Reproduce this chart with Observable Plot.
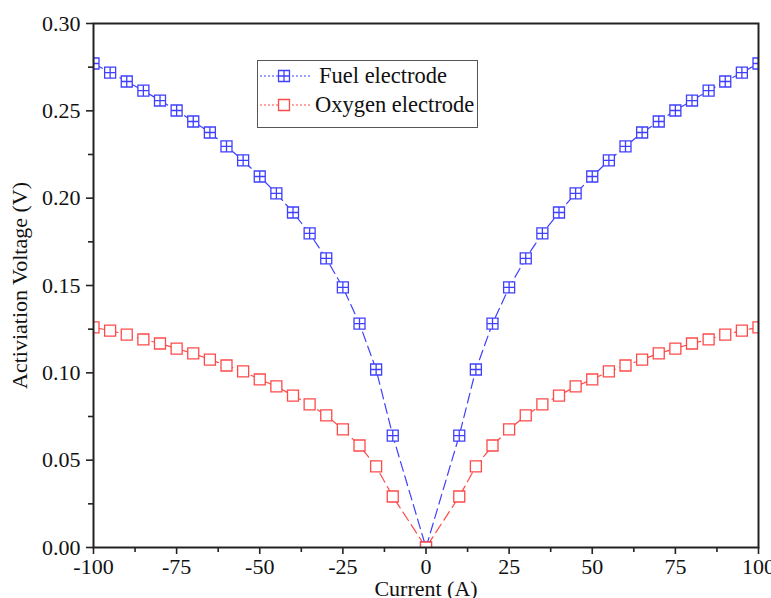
<!DOCTYPE html>
<html><head><meta charset="utf-8">
<script src="https://cdn.jsdelivr.net/npm/d3@7"></script>
<script src="https://cdn.jsdelivr.net/npm/@observablehq/plot@0.6"></script>
<style>
body{margin:0;background:#fff}
#wrap{position:relative;width:771px;height:598px;overflow:hidden;font-family:"Liberation Serif","Times New Roman",serif}
#legend{position:absolute;left:257px;top:60px;width:221px;height:68px;border:1.3px solid #555;background:#fff;box-sizing:border-box}
.row{position:absolute;left:1px;display:flex;align-items:center;font-size:22.5px;color:#111;white-space:nowrap}
.row svg{margin-right:5px}
</style></head>
<body><div id="wrap"><div id="chart"></div>
<div id="legend">
 <div class="row" style="top:2px"><svg width="52" height="24" id="lg1"></svg><span style="margin-left:3px">Fuel electrode</span></div>
 <div class="row" style="top:31px"><svg width="52" height="24" id="lg2"></svg><span style="margin-left:-1px">Oxygen electrode</span></div>
</div></div>
<script>
const current = [-100,-95,-90,-85,-80,-75,-70,-65,-60,-55,-50,-45,-40,-35,-30,-25,-20,-15,-10,0,10,15,20,25,30,35,40,45,50,55,60,65,70,75,80,85,90,95,100];
const fuel = [0.2771,0.2719,0.2668,0.2616,0.2559,0.2502,0.2439,0.2376,0.2296,0.2216,0.2124,0.2027,0.1918,0.1798,0.1655,0.1489,0.1282,0.1019,0.0641,0,0.0641,0.1019,0.1282,0.1489,0.1655,0.1798,0.1918,0.2027,0.2124,0.2216,0.2296,0.2376,0.2439,0.2502,0.2559,0.2616,0.2668,0.2719,0.2771];
const oxygen = [0.1260,0.1242,0.1219,0.1191,0.1168,0.1139,0.1111,0.1076,0.1042,0.1008,0.0962,0.0922,0.0870,0.0819,0.0756,0.0676,0.0584,0.0464,0.0292,0,0.0292,0.0464,0.0584,0.0676,0.0756,0.0819,0.0870,0.0922,0.0962,0.1008,0.1042,0.1076,0.1111,0.1139,0.1168,0.1191,0.1219,0.1242,0.1260];
const xTicks = [-100,-75,-50,-25,0,25,50,75,100];
const xMinor = [-87.5,-62.5,-37.5,-12.5,12.5,37.5,62.5,87.5];
const yTicks = [0,0.05,0.10,0.15,0.20,0.25,0.30];
const yMinor = [0.025,0.075,0.125,0.175,0.225,0.275];
const seriesNames = ["Fuel electrode","Oxygen electrode"];

const BLUE = "#3f3fff", RED = "#ff4a4a";
const fuelData = current.map((c,i)=>({x:c,y:fuel[i]}));
const oxyData = current.map((c,i)=>({x:c,y:oxygen[i]}));

const boxPlus = {draw(ctx,size){const s=Math.sqrt(size)/2;ctx.moveTo(-s,-s);ctx.lineTo(s,-s);ctx.lineTo(s,s);ctx.lineTo(-s,s);ctx.closePath();ctx.moveTo(0,-s);ctx.lineTo(0,s);ctx.moveTo(-s,0);ctx.lineTo(s,0);}};
const box = {draw(ctx,size){const s=Math.sqrt(size)/2;ctx.moveTo(-s,-s);ctx.lineTo(s,-s);ctx.lineTo(s,s);ctx.lineTo(-s,s);ctx.closePath();}};

const font = '"Liberation Serif","Times New Roman",serif';
const chart = Plot.plot({
  width: 771, height: 598,
  marginLeft: 93, marginRight: 13, marginTop: 23, marginBottom: 51,
  style: {fontFamily: font, fontSize: "22px", color: "#111", background: "#fff", overflow: "visible"},
  x: {domain: [-100,100]},
  y: {domain: [0,0.30]},
  marks: [
    Plot.line(fuelData, {x:"x", y:"y", stroke: BLUE, strokeWidth: 1.2, strokeDasharray: "10,5", clip: true}),
    Plot.line(oxyData, {x:"x", y:"y", stroke: RED, strokeWidth: 1.2, strokeDasharray: "10,5", clip: true}),
    Plot.dot(fuelData, {x:"x", y:"y", symbol: boxPlus, r: 6.2, stroke: BLUE, fill: "white", strokeWidth: 1.3, clip: true}),
    Plot.dot(oxyData, {x:"x", y:"y", symbol: box, r: 6.2, stroke: RED, fill: "white", strokeWidth: 1.3, clip: true}),
    Plot.axisX({ticks: xTicks, tickSize: 7, tickPadding: 4, strokeWidth: 1.6, stroke: "#222", fontSize: 22, tickFormat: d => String(d), label: "Current (A)", labelAnchor: "center", labelOffset: 48, labelArrow: "none"}),
    Plot.axisX({ticks: xMinor, tickSize: 5, strokeWidth: 1.6, stroke: "#222", tickFormat: () => "", label: null}),
    Plot.axisY({ticks: yTicks, tickSize: 7, tickPadding: 6, strokeWidth: 1.6, stroke: "#222", fontSize: 22, tickFormat: d3.format(".2f"), label: "Activiation Voltage (V)", labelAnchor: "center", labelOffset: 82, labelArrow: "none"}),
    Plot.axisY({ticks: yMinor, tickSize: 5, strokeWidth: 1.6, stroke: "#222", tickFormat: () => "", label: null}),
    Plot.frame({stroke: "#222", strokeWidth: 2})
  ]
});
document.getElementById("chart").appendChild(chart);

function legendSample(id, color, sym){
  const svg = d3.select("#"+id);
  svg.append("line").attr("x1",1).attr("x2",51).attr("y1",12).attr("y2",12).attr("stroke",color).attr("stroke-width",1.2).attr("stroke-dasharray","2,2");
  svg.append("path").attr("transform","translate(25,12)").attr("d", d3.symbol(sym, 120)()).attr("fill","white").attr("stroke",color).attr("stroke-width",1.3);
}
legendSample("lg1", BLUE, boxPlus);
legendSample("lg2", RED, box);
</script>
</body></html>
